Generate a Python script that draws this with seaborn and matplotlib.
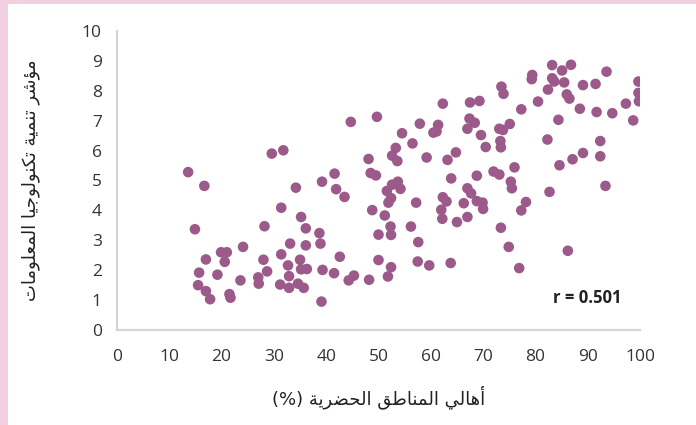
import matplotlib
matplotlib.use("Agg")
import matplotlib.pyplot as plt
import seaborn as sns
import pandas as pd
from matplotlib.patches import Rectangle

# Urban population share (%) and ICT development index per country
urban_pct = [
    13.6, 16.7, 14.9, 17.0, 15.7, 15.5, 17.0, 17.8, 19.2, 19.9,
    21.0, 20.6, 24.1, 23.6, 21.5, 21.7, 28.0, 28.2, 28.7, 27.0,
    27.1, 29.6, 31.8, 31.4, 34.2, 35.2, 36.1, 33.1, 31.4, 32.7,
    32.9, 31.2, 32.9, 34.6, 35.7, 35.0, 35.2, 36.3, 36.1, 38.7,
    38.9, 39.2, 41.6, 41.9, 43.5, 42.6, 39.3, 41.5, 44.3, 39.1,
    44.7, 49.7, 62.3, 67.5, 69.3, 77.3, 80.5, 88.5, 91.7, 94.7,
    97.3, 99.8, 98.7, 84.4, 57.9, 54.5, 56.5, 53.3, 52.6, 53.6,
    48.1, 59.2, 61.4, 61.1, 60.5, 67.4, 68.4, 67.0, 69.6, 70.5,
    73.1, 73.8, 75.1, 73.3, 73.4, 64.8, 63.2, 82.3, 92.4, 92.4,
    89.1, 87.1, 84.6, 76.0, 72.0, 73.1, 68.8, 63.9, 75.3, 75.5,
    82.7, 93.4, 48.5, 49.5, 53.7, 52.6, 54.2, 51.6, 52.4, 51.9,
    57.2, 48.8, 51.2, 52.3, 52.4, 50.0, 56.2, 57.6, 45.3, 48.2,
    50.0, 52.4, 51.8, 57.5, 59.7, 63.8, 62.3, 63.0, 62.0, 62.2,
    65.0, 67.0, 66.3, 67.0, 67.7, 68.8, 69.9, 70.0, 77.3, 78.2,
    73.4, 74.9, 76.9, 86.2, 83.2, 85.1, 86.8, 93.6, 79.4, 79.3,
    83.2, 83.6, 85.5, 82.4, 89.1, 91.5, 99.7, 99.7, 73.5, 73.9,
    86.0, 86.5,
]
ict_index = [
    5.28, 4.82, 3.37, 2.36, 1.92, 1.50, 1.30, 1.03, 1.85, 2.60,
    2.60, 2.28, 2.78, 1.66, 1.20, 1.08, 2.35, 3.47, 1.96, 1.76,
    1.55, 5.90, 6.01, 4.09, 4.76, 3.78, 3.40, 2.89, 2.53, 2.16,
    1.80, 1.52, 1.41, 1.55, 1.41, 2.35, 2.03, 2.04, 2.83, 3.24,
    2.89, 4.96, 5.23, 4.71, 4.45, 2.45, 2.01, 1.90, 1.66, 0.95,
    6.96, 7.13, 7.57, 7.61, 7.66, 7.38, 7.64, 7.40, 7.29, 7.25,
    7.57, 7.65, 7.01, 7.03, 6.90, 6.58, 6.24, 6.09, 5.83, 5.65,
    5.72, 5.77, 6.86, 6.64, 6.60, 7.07, 6.93, 6.73, 6.52, 6.12,
    6.73, 6.69, 6.89, 6.32, 6.11, 5.94, 5.69, 6.37, 6.32, 5.81,
    5.92, 5.71, 5.51, 5.44, 5.30, 5.20, 5.16, 5.07, 4.96, 4.74,
    4.62, 4.82, 5.25, 5.17, 4.96, 4.86, 4.72, 4.65, 4.41, 4.26,
    4.26, 4.01, 3.83, 3.46, 3.18, 3.19, 3.46, 2.94, 1.82, 1.68,
    2.34, 2.10, 1.79, 2.29, 2.16, 2.24, 4.44, 4.30, 4.02, 3.72,
    3.61, 3.78, 4.24, 4.74, 4.57, 4.31, 4.26, 4.05, 4.00, 4.28,
    3.42, 2.78, 2.07, 2.65, 8.86, 8.68, 8.87, 8.64, 8.53, 8.39,
    8.42, 8.31, 8.28, 8.04, 8.19, 8.23, 8.31, 7.93, 8.14, 7.90,
    7.88, 7.74,
]
x_ticks = list(range(0, 101, 10))
y_ticks = list(range(0, 11))
x_label = "أهالي المناطق الحضرية (%)"
y_label = "مؤشر تنمية تكنولوجيا المعلومات"
r_label = "r = 0.501"

# Arabic contextual glyphs: (isolated, final, initial, medial);
# letters that never join to the following letter have only two forms.
FORMS = {
    "ا": ("\uFE8D", "\uFE8E"),
    "أ": ("\uFE83", "\uFE84"),
    "ؤ": ("\uFE85", "\uFE86"),
    "ة": ("\uFE93", "\uFE94"),
    "ر": ("\uFEAD", "\uFEAE"),
    "و": ("\uFEED", "\uFEEE"),
    "ت": ("\uFE95", "\uFE96", "\uFE97", "\uFE98"),
    "ج": ("\uFE9D", "\uFE9E", "\uFE9F", "\uFEA0"),
    "ح": ("\uFEA1", "\uFEA2", "\uFEA3", "\uFEA4"),
    "ش": ("\uFEB5", "\uFEB6", "\uFEB7", "\uFEB8"),
    "ض": ("\uFEBD", "\uFEBE", "\uFEBF", "\uFEC0"),
    "ط": ("\uFEC1", "\uFEC2", "\uFEC3", "\uFEC4"),
    "ع": ("\uFEC9", "\uFECA", "\uFECB", "\uFECC"),
    "ق": ("\uFED5", "\uFED6", "\uFED7", "\uFED8"),
    "ك": ("\uFED9", "\uFEDA", "\uFEDB", "\uFEDC"),
    "ل": ("\uFEDD", "\uFEDE", "\uFEDF", "\uFEE0"),
    "م": ("\uFEE1", "\uFEE2", "\uFEE3", "\uFEE4"),
    "ن": ("\uFEE5", "\uFEE6", "\uFEE7", "\uFEE8"),
    "ه": ("\uFEE9", "\uFEEA", "\uFEEB", "\uFEEC"),
    "ي": ("\uFEF1", "\uFEF2", "\uFEF3", "\uFEF4"),
}


def shape_rtl(text):
    """Join Arabic letters and lay the string out right-to-left."""
    def dual(ch):
        return ch in FORMS and len(FORMS[ch]) == 4

    out = []
    for i, ch in enumerate(text):
        if ch not in FORMS:
            out.append(ch)
            continue
        prev = text[i - 1] if i > 0 else ""
        nxt = text[i + 1] if i + 1 < len(text) else ""
        join_prev = dual(prev)
        join_next = dual(ch) and nxt in FORMS
        f = FORMS[ch]
        if join_prev and join_next:
            out.append(f[3])
        elif join_prev:
            out.append(f[1])
        elif join_next:
            out.append(f[2])
        else:
            out.append(f[0])
    mirror = {"(": ")", ")": "("}
    return "".join(mirror.get(c, c) for c in reversed(out))


df = pd.DataFrame({"urban": urban_pct, "ict": ict_index})

sns.set_style("white")
plt.rcParams["font.family"] = ["Open Sans", "DejaVu Sans"]

W, H = 696, 425
fig = plt.figure(figsize=(W / 100, H / 100), dpi=100)
ax = fig.add_axes([117 / W, 1 - 330 / H, (640 - 117) / W, (330 - 31) / H])

sns.scatterplot(data=df, x="urban", y="ict", ax=ax, s=58,
                color="#9b5a8a", edgecolor="none", linewidth=0, legend=False)

ax.set_xlim(0, 100)
ax.set_ylim(0, 10)
ax.set_xticks(x_ticks)
ax.set_yticks(y_ticks)

grey = "#d4d4d4"
for side in ("top", "right"):
    ax.spines[side].set_visible(False)
for side in ("left", "bottom"):
    ax.spines[side].set_color(grey)
    ax.spines[side].set_linewidth(1.6)
ax.tick_params(axis="both", direction="out", length=4, width=1.6,
               color=grey, labelcolor="#333333", labelsize=12.5)
ax.tick_params(axis="x", pad=10)
ax.tick_params(axis="y", pad=7)

arabic_font = dict(family=["DejaVu Sans"], size=13, color="#222222")
ax.set_xlabel(shape_rtl(x_label), labelpad=14, **arabic_font)
ax.set_ylabel(shape_rtl(y_label), labelpad=30, **arabic_font)

ax.text(0.834, 0.107, r_label, transform=ax.transAxes, ha="left",
        va="center", fontsize=12, fontweight="bold", color="#222222")

# pink frame strips on the left and top edges
pink = "#f2cfe0"
fig.patches.append(Rectangle((0, 0), 8 / W, 1, transform=fig.transFigure,
                             facecolor=pink, edgecolor="none"))
fig.patches.append(Rectangle((0, 1 - 4 / H), 1, 4 / H,
                             transform=fig.transFigure,
                             facecolor=pink, edgecolor="none"))

fig.savefig("out.png", dpi=100)
